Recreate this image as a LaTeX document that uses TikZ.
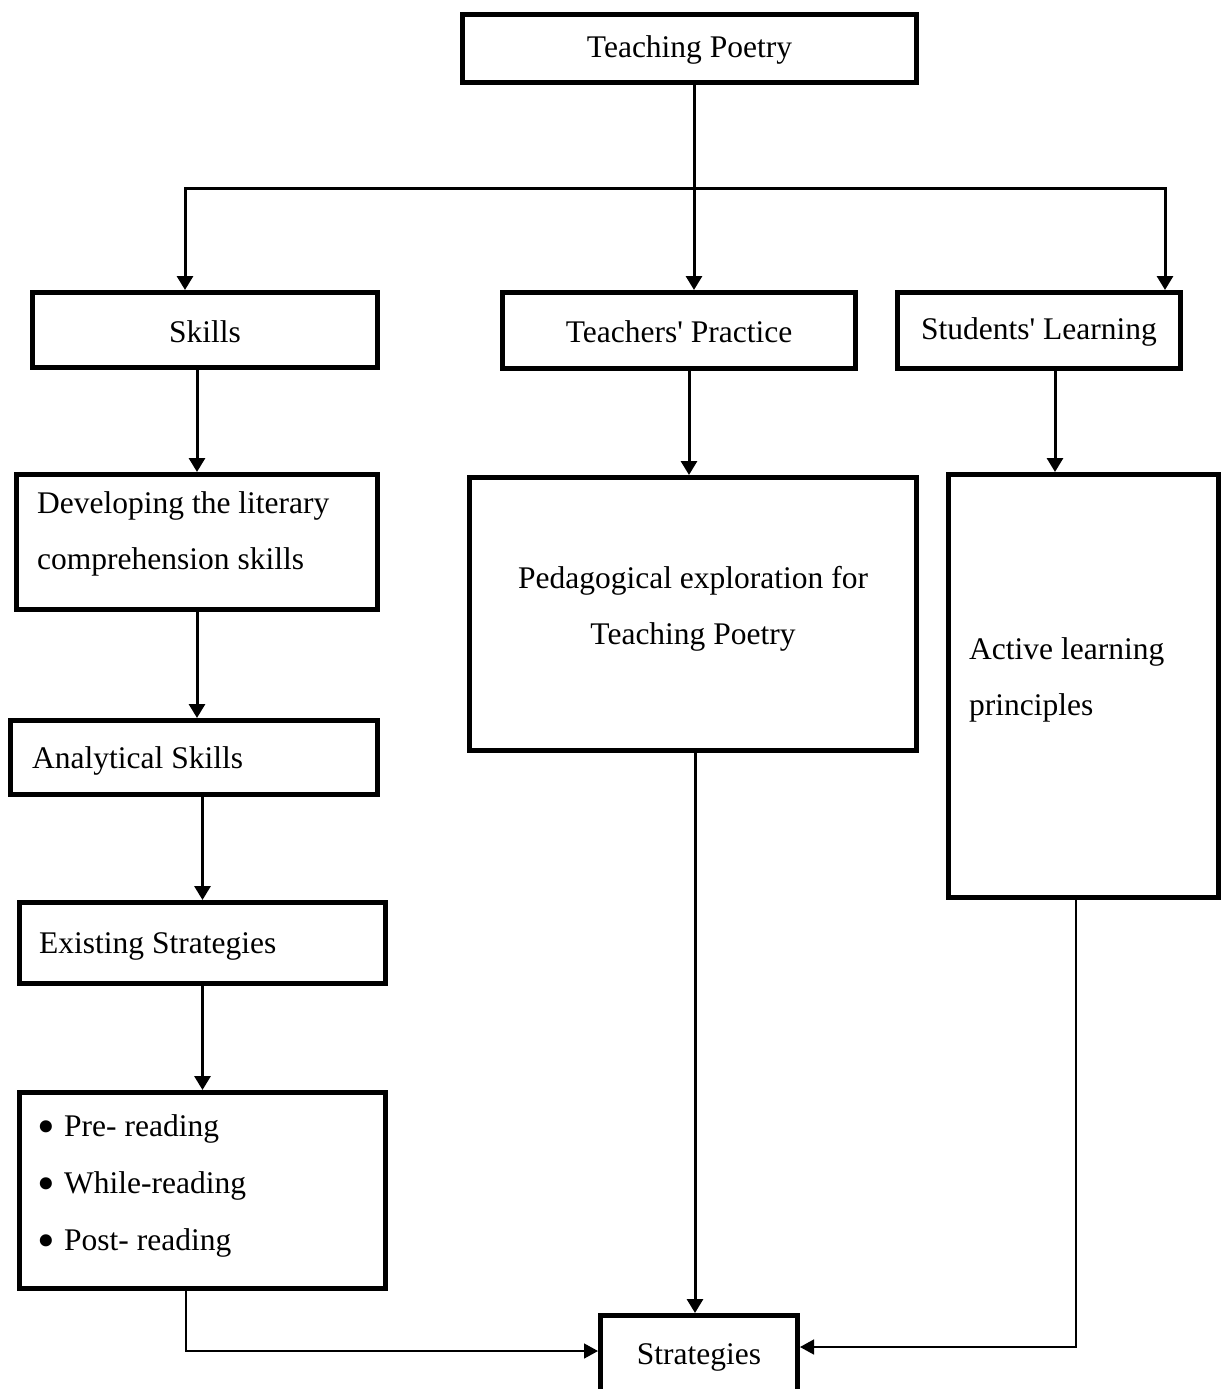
\documentclass[tikz,border=0pt]{standalone}
\usepackage{fontspec}
\setmainfont{Liberation Serif}[Ligatures=TeXOff]
\usetikzlibrary{arrows.meta}
\newcommand{\bigbul}{\makebox[27pt][l]{\raisebox{-7pt}{\scalebox{1.6}{\textbullet}}}}
\begin{document}
\begin{tikzpicture}[x=1pt,y=-1pt,
  box/.style={draw,line width=5pt,inner sep=0pt},
  lbl/.style={inner sep=0pt,font=\fontsize{31.5}{56}\selectfont},
  arr/.style={line width=3pt,-{Triangle[length=14pt,width=16pt]}},
  thinarr/.style={line width=1.5pt,-{Triangle[length=14pt,width=15pt]}},
  plain/.style={line width=3pt}]
\useasboundingbox (0,0) rectangle (1225,1389);
\clip (0,0) rectangle (1225,1389);
% boxes
\node[box,minimum width=454pt,minimum height=68pt] (top) at (689.5,48.5) {};
\node[box,minimum width=345pt,minimum height=75pt] (sk) at (205,330) {};
\node[box,minimum width=353pt,minimum height=76pt] (tp) at (679,330.5) {};
\node[box,minimum width=283pt,minimum height=76pt] (sl) at (1039,330.5) {};
\node[box,minimum width=361pt,minimum height=135pt] (dev) at (197,542) {};
\node[box,minimum width=367pt,minimum height=74pt] (an) at (194,757.5) {};
\node[box,minimum width=366pt,minimum height=81pt] (ex) at (202.5,943) {};
\node[box,minimum width=366pt,minimum height=196pt] (bul) at (202.5,1190.5) {};
\node[box,minimum width=447pt,minimum height=273pt] (ped) at (693,614) {};
\node[box,minimum width=270pt,minimum height=423pt] (act) at (1083.5,686) {};
\node[box,minimum width=197pt,minimum height=102pt] (str) at (699,1366.5) {};
% texts
\node[lbl] (ttop) at (689.5,50) {Teaching Poetry};
\node[lbl] (tsk) at (205,332) {Skills};
\node[lbl] (ttp) at (679,332) {Teachers' Practice};
\node[lbl] (tsl) at (1039,332) {Students' Learning};
\node[lbl,anchor=west,align=left] (tdev) at (37,534) {Developing the literary\\comprehension skills};
\node[lbl,anchor=west] (tan) at (32,761) {Analytical Skills};
\node[lbl,anchor=west] (tex) at (39,946) {Existing Strategies};
\node[lbl,anchor=west,align=left,font=\fontsize{31.5}{57}\selectfont] (tbul) at (37,1186) {\bigbul Pre- reading\\\bigbul While-reading\\\bigbul Post- reading};
\node[lbl,align=center] (tped) at (693,609) {Pedagogical exploration for\\Teaching Poetry};
\node[lbl,anchor=west,align=left] (tact) at (969,680) {Active learning\\principles};
\node[lbl] (tstr) at (699,1357) {Strategies};
% connectors
\coordinate (hub) at (694,188);
\coordinate (hl) at (185,188);
\coordinate (hr) at (1165,188);
\draw[plain] (top.south -| hub) -- (hub);
\draw[arr] (hub) -- (hub |- tp.north);
\draw[arr] (hub) -- (hl) -- (hl |- sk.north);
\draw[arr] (hub) -- (hr) -- (hr |- sl.north);
\draw[arr] (sk.south -| dev) -- (dev.north);
\draw[arr] (dev.south) -- (dev.south |- an.north);
\draw[arr] (an.south -| ex) -- (ex.north);
\draw[arr] (ex.south) -- (bul.north);
\draw[arr] ([xshift=10pt]tp.south) -- ([xshift=10pt]tp.south |- ped.north);
\draw[arr] ([xshift=16pt]sl.south) -- ([xshift=16pt]sl.south |- act.north);
\draw[arr] ([xshift=2pt]ped.south) -- ([xshift=2pt]ped.south |- str.north);
\draw[thinarr] ([xshift=-7.5pt]act.south) |- ([yshift=19.5pt]str.east);
\draw[thinarr] ([xshift=-16.5pt]bul.south) |- ([yshift=15.5pt]str.west);
\end{tikzpicture}
\end{document}
